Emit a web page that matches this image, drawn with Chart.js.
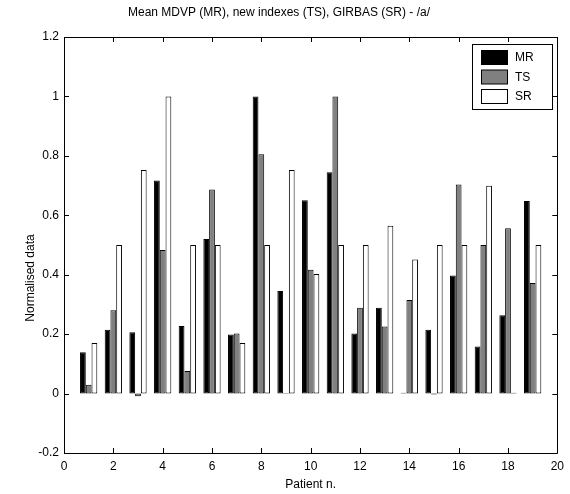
<!DOCTYPE html>
<html>
<head>
<meta charset="utf-8">
<script src="https://cdn.jsdelivr.net/npm/chart.js@4/dist/chart.umd.min.js"></script>
<style>
  html, body { margin: 0; padding: 0; background: #fff; }
  #wrap { width: 570px; height: 494px; }
</style>
</head>
<body>
<div id="wrap"><canvas id="chart"></canvas></div>
<script>
// Patients and normalised values
const patients = [1, 2, 3, 4, 5, 6, 7, 8, 9, 10, 11, 12, 13, 14, 15, 16, 17, 18, 19];
const mrValues = [0.139, 0.215, 0.206, 0.717, 0.227, 0.52, 0.199, 1.0, 0.345, 0.651, 0.745, 0.202, 0.289, 0.003, 0.215, 0.397, 0.158, 0.264, 0.648];
const tsValues = [0.03, 0.28, -0.009, 0.483, 0.076, 0.687, 0.202, 0.805, 0.002, 0.417, 1.0, 0.289, 0.226, 0.315, -0.003, 0.704, 0.5, 0.556, 0.372];
const srValues = [0.17, 0.5, 0.752, 1.0, 0.5, 0.5, 0.17, 0.5, 0.752, 0.402, 0.5, 0.5, 0.565, 0.451, 0.5, 0.5, 0.699, 0.003, 0.5];
const xTicks = [0, 2, 4, 6, 8, 10, 12, 14, 16, 18, 20];
const yTicks = [-0.2, 0, 0.2, 0.4, 0.6, 0.8, 1, 1.2];

const FONT = "'Liberation Sans', Arial, Helvetica, sans-serif";
Chart.defaults.font.family = FONT;
Chart.defaults.color = "#000";

function toPoints(values) {
  return patients.map(function(p, i) { return { x: p, y: values[i] }; });
}

// MATLAB-like box with inward ticks, y label and legend inside the axes
const matlabFrame = {
  id: "matlabFrame",
  afterDatasetsDraw(chart) {
    const ctx = chart.ctx;
    const area = chart.chartArea;
    const xs = chart.scales.x;
    const ys = chart.scales.y;
    const tick = 5;
    ctx.save();
    ctx.strokeStyle = "#000";
    ctx.lineWidth = 1;
    ctx.beginPath();
    ctx.rect(Math.round(area.left) + 0.5, Math.round(area.top) + 0.5,
             Math.round(area.right - area.left), Math.round(area.bottom - area.top));
    xTicks.forEach(function(v) {
      const px = Math.round(xs.getPixelForValue(v)) + 0.5;
      ctx.moveTo(px, area.bottom); ctx.lineTo(px, area.bottom - tick);
      ctx.moveTo(px, area.top); ctx.lineTo(px, area.top + tick);
    });
    yTicks.forEach(function(v) {
      const py = Math.round(ys.getPixelForValue(v)) + 0.5;
      ctx.moveTo(area.left, py); ctx.lineTo(area.left + tick, py);
      ctx.moveTo(area.right, py); ctx.lineTo(area.right - tick, py);
    });
    ctx.stroke();

    // y axis label
    ctx.font = "12px " + FONT;
    ctx.fillStyle = "#000";
    ctx.textAlign = "center";
    ctx.textBaseline = "middle";
    ctx.save();
    ctx.translate(31, 278);
    ctx.rotate(-Math.PI / 2);
    ctx.fillText("Normalised data", 0, 0);
    ctx.restore();

    // legend
    const lx = 472.5, ly = 44.5, lw = 80, lh = 65;
    ctx.fillStyle = "#fff";
    ctx.fillRect(lx, ly, lw, lh);
    ctx.strokeRect(lx, ly, lw, lh);
    chart.data.datasets.forEach(function(ds, i) {
      const sy = 50.5 + i * 19.5;
      ctx.fillStyle = ds.backgroundColor;
      ctx.fillRect(481.5, sy, 26, 14);
      ctx.strokeRect(481.5, sy, 26, 14);
      ctx.fillStyle = "#000";
      ctx.textAlign = "left";
      ctx.textBaseline = "middle";
      ctx.fillText(ds.label, 515, sy + 7.5);
    });
    ctx.restore();
  }
};

const ctx = document.getElementById("chart").getContext("2d");
new Chart(ctx, {
  type: "bar",
  data: {
    datasets: [
      { label: "MR", data: toPoints(mrValues), backgroundColor: "#000000" },
      { label: "TS", data: toPoints(tsValues), backgroundColor: "#808080" },
      { label: "SR", data: toPoints(srValues), backgroundColor: "#ffffff" }
    ]
  },
  options: {
    responsive: true,
    maintainAspectRatio: false,
    devicePixelRatio: 1,
    animation: false,
    layout: { padding: { left: 0, right: 12, top: 0, bottom: 0 } },
    datasets: {
      bar: {
        borderColor: "#000",
        borderWidth: 1,
        borderSkipped: false,
        categoryPercentage: 0.7,
        barPercentage: 1.0
      }
    },
    plugins: {
      legend: { display: false },
      tooltip: { enabled: false },
      title: {
        display: true,
        text: "Mean MDVP (MR), new indexes (TS), GIRBAS (SR) - /a/",
        font: { size: 12, weight: "normal" },
        color: "#000",
        padding: { top: 5, bottom: 17.6 }
      }
    },
    scales: {
      x: {
        type: "linear",
        min: 0,
        max: 20,
        offset: false,
        grid: { display: false, drawTicks: false },
        border: { display: false },
        ticks: { font: { size: 12 }, padding: 6 },
        afterBuildTicks: function(s) { s.ticks = xTicks.map(function(v) { return { value: v }; }); },
        afterFit: function(s) { s.height = 41; },
        title: {
          display: true,
          text: "Patient n.",
          font: { size: 12 },
          padding: { top: 0, bottom: 2 }
        }
      },
      y: {
        min: -0.2,
        max: 1.2,
        grid: { display: false, drawTicks: false },
        border: { display: false },
        ticks: {
          font: { size: 12 },
          padding: 5,
          callback: function(v) { return String(Math.round(v * 10) / 10); }
        },
        afterBuildTicks: function(s) { s.ticks = yTicks.map(function(v) { return { value: v }; }); },
        afterFit: function(s) { s.width = 64; }
      }
    }
  },
  plugins: [matlabFrame]
});
</script>
</body>
</html>
